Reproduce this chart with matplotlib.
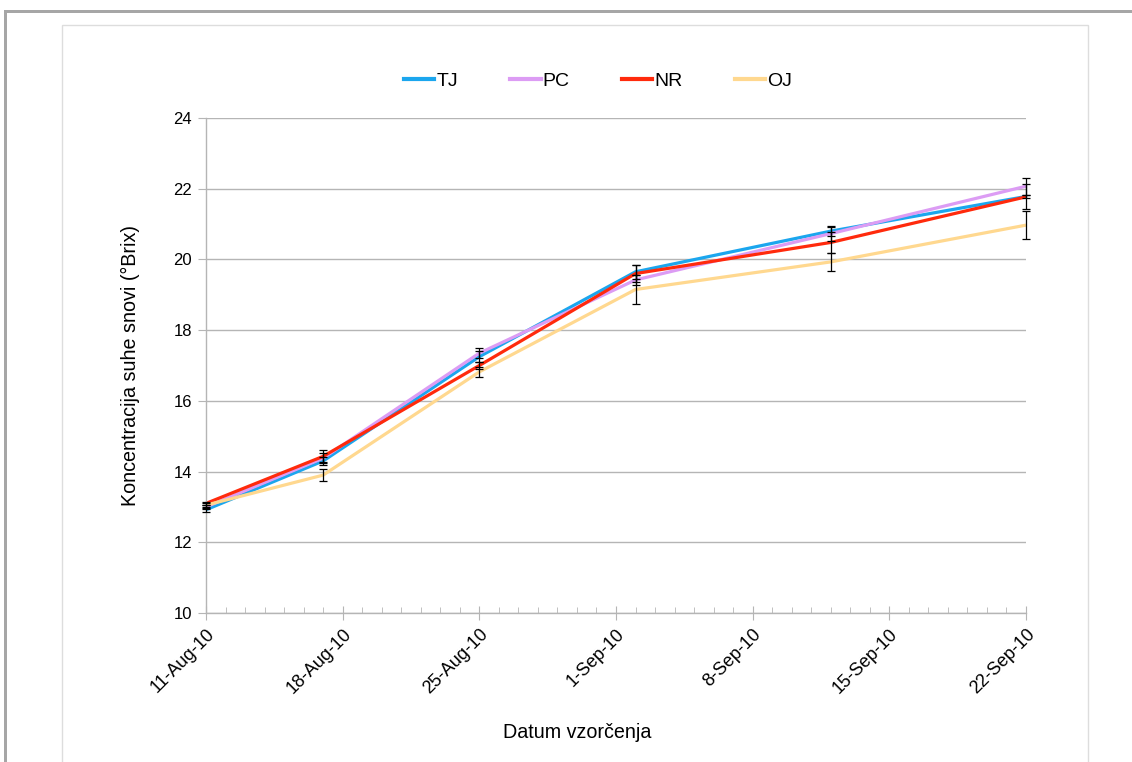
import matplotlib
matplotlib.use("Agg")
import matplotlib.pyplot as plt
from matplotlib.patches import Rectangle
from matplotlib.lines import Line2D
import datetime as dt

plt.rcParams['font.family'] = ['Liberation Sans', 'DejaVu Sans']

# sampling dates
dates = [dt.date(2010, 8, 11), dt.date(2010, 8, 17), dt.date(2010, 8, 25),
         dt.date(2010, 9, 2), dt.date(2010, 9, 12), dt.date(2010, 9, 22)]

series_names = ["TJ", "PC", "NR", "OJ"]
TJ = [12.92, 14.30, 17.25, 19.65, 20.80, 21.78]
PC = [13.00, 14.38, 17.35, 19.42, 20.73, 22.07]
NR = [13.10, 14.43, 17.00, 19.60, 20.48, 21.77]
OJ = [13.05, 13.90, 16.82, 19.15, 19.93, 20.97]

TJ_err = [0.05, 0.10, 0.15, 0.20, 0.15, 0.05]
PC_err = [0.06, 0.15, 0.15, 0.15, 0.20, 0.24]
NR_err = [0.05, 0.17, 0.10, 0.25, 0.30, 0.35]
OJ_err = [0.05, 0.17, 0.15, 0.40, 0.25, 0.40]

colors = ["#1BA6EE", "#DC9CF4", "#FF2A0C", "#FFD88F"]

start = dt.date(2010, 8, 11)
major_days = [start + dt.timedelta(days=7 * i) for i in range(7)]
minor_days = [start + dt.timedelta(days=i) for i in range(43)]
tick_labels = ["11-Aug-10", "18-Aug-10", "25-Aug-10", "1-Sep-10",
               "8-Sep-10", "15-Sep-10", "22-Sep-10"]

fig = plt.figure(figsize=(11.32, 7.62), dpi=100)

# page-like frame around the chart
W, H = 1132, 762
fig.add_artist(Rectangle((4 / W, 0), 2.5 / W, 1 - 11 / H, transform=fig.transFigure,
                         color="#a6a6a6", lw=0))
fig.add_artist(Rectangle((4 / W, 1 - 13 / H), 1 - 4 / W, 3 / H, transform=fig.transFigure,
                         color="#a6a6a6", lw=0))
fig.add_artist(Rectangle((62 / W, -0.01), (1088 - 62) / W, 1 - 25 / H + 0.01,
                         transform=fig.transFigure, fill=False, ec="#dddddd", lw=1))

ax = fig.add_axes([206 / W, 1 - 613 / H, (1026 - 206) / W, (613 - 118) / H])

data = [TJ, PC, NR, OJ]
errs = [TJ_err, PC_err, NR_err, OJ_err]
for name, vals, err, c in zip(series_names, data, errs, colors):
    ax.plot(dates, vals, color=c, lw=2.3, label=name, solid_capstyle='butt', clip_on=False)
    eb = ax.errorbar(dates, vals, yerr=err, fmt='none', ecolor='black', elinewidth=0.9,
                     capsize=3, capthick=0.9, zorder=3)
    for art in eb.lines[1] + eb.lines[2]:
        art.set_clip_on(False)

ax.set_xlim(start, dt.date(2010, 9, 22))
ax.set_ylim(10, 24)
ax.set_yticks(range(10, 25, 2))
ax.yaxis.grid(True, color="#b5b5b5", lw=1)
ax.set_axisbelow(True)

ax.set_xticks(major_days)
ax.set_xticks(minor_days, minor=True)
ax.set_xticklabels(tick_labels, rotation=45, ha='right', rotation_mode='anchor')

for s in ['top', 'right']:
    ax.spines[s].set_visible(False)
for s in ['left', 'bottom']:
    ax.spines[s].set_color("#b5b5b5")
    ax.spines[s].set_linewidth(1)

ax.tick_params(axis='y', length=6, color="#b5b5b5", labelsize=12, pad=4)
ax.tick_params(axis='x', which='major', direction='inout', length=10, color="#b5b5b5",
               labelsize=13, pad=4)
ax.tick_params(axis='x', which='minor', direction='in', length=4, color="#b5b5b5")

fig.text(130 / W, 1 - 365 / H, "Koncentracija suhe snovi (°Brix)", rotation=90,
         ha='center', va='center', fontsize=14.2)
fig.text(577 / W, 1 - 733 / H, "Datum vzorčenja", ha='center', va='center', fontsize=14.2)

handles = [Line2D([], [], color=c, lw=3) for c in colors]
fig.legend(handles, series_names, loc='center', bbox_to_anchor=(598 / W, 1 - 81 / H),
           ncol=4, frameon=False, fontsize=14, handlelength=1.55, handletextpad=0.1,
           columnspacing=2.7)

fig.savefig("out.png", dpi=100)
